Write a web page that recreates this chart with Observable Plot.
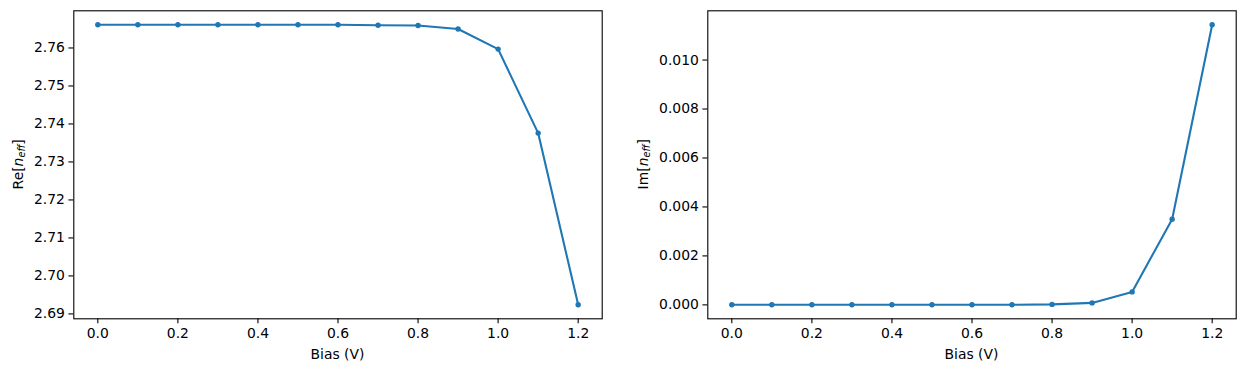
<!DOCTYPE html>
<html><head><meta charset="utf-8">
<script src="https://cdn.jsdelivr.net/npm/d3@7"></script>
<script src="https://cdn.jsdelivr.net/npm/@observablehq/plot@0.6"></script>
<style>
body{margin:0;background:#fff;}
#fig{position:relative;width:1245px;height:371px;font-family:"DejaVu Sans";background:#fff;}
#fig svg{position:absolute;top:0;}
</style></head><body><div id="fig"></div>
<script>
const bias = [0, 0.1, 0.2, 0.3, 0.4, 0.5, 0.6, 0.7, 0.8, 0.9, 1.0, 1.1, 1.2];
const reNeff = [2.7661, 2.7661, 2.7661, 2.7661, 2.7661, 2.7661, 2.7661, 2.7660, 2.7659, 2.7650, 2.7597, 2.7376, 2.6924];
const imNeff = [0.000003, 0.000003, 0.000003, 0.000003, 0.000003, 0.000003, 0.000004, 0.000006, 0.00002, 0.00008, 0.00053, 0.00350, 0.01144];
const xTicks = [0, 0.2, 0.4, 0.6, 0.8, 1.0, 1.2];
const reTicks = [2.69, 2.70, 2.71, 2.72, 2.73, 2.74, 2.75, 2.76];
const imTicks = [0, 0.002, 0.004, 0.006, 0.008, 0.010];
const xLabel = "Bias (V)";

function pad(arr) { const [a, b] = d3.extent(arr); const m = (b - a) * 0.05; return [a - m, b + m]; }

const fig = document.getElementById("fig");

function panel({values, yTicks, yFmt, left, width, marginLeft, marginRight, prefix, labelX}) {
  const data = bias.map((b, i) => ({b, v: values[i]}));
  const svg = Plot.plot({
    width, height: 371, marginTop: 10.3, marginBottom: 52.7, marginLeft, marginRight,
    style: {fontFamily: "DejaVu Sans", fontSize: "13.9px", color: "#000", background: "transparent", overflow: "visible"},
    x: {domain: pad(bias), label: null},
    y: {domain: pad(values), label: null},
    marks: [
      Plot.axisX({ticks: xTicks, tickFormat: d3.format(".1f"), tickSize: 4.9, tickPadding: 4, strokeWidth: 1.1, label: null, fontSize: 13.9}),
      Plot.axisY({ticks: yTicks, tickFormat: d3.format(yFmt), tickSize: 4.9, tickPadding: 4, strokeWidth: 1.1, label: null, fontSize: 13.9}),
      Plot.line(data, {x: "b", y: "v", stroke: "#1f77b4", strokeWidth: 2.1}),
      Plot.dot(data, {x: "b", y: "v", r: 2.7, fill: "#1f77b4", stroke: "none"}),
      Plot.frame({stroke: "#000", strokeWidth: 1.1})
    ]
  });
  svg.style.left = left + "px";
  const s = d3.select(svg);
  const cx = marginLeft + (width - marginLeft - marginRight) / 2;
  s.append("text").attr("x", cx).attr("y", 359).attr("text-anchor", "middle")
    .attr("font-family", "DejaVu Sans").attr("font-size", 13.9).attr("fill", "#000").text(xLabel);
  const cy = 10.3 + (371 - 10.3 - 52.7) / 2;
  const t = s.append("text").attr("transform", `translate(${labelX},${cy}) rotate(-90)`)
    .attr("text-anchor", "middle").attr("dominant-baseline", "central")
    .attr("font-family", "DejaVu Sans").attr("font-size", 13.9).attr("fill", "#000");
  t.append("tspan").text(prefix + "[");
  t.append("tspan").attr("font-style", "italic").text("n");
  t.append("tspan").attr("font-style", "italic").attr("font-size", 9.7).attr("dy", 3).text("eff");
  t.append("tspan").attr("dy", -3).text("]");
  fig.appendChild(svg);
}

panel({values: reNeff, yTicks: reTicks, yFmt: ".2f", left: 0, width: 622, marginLeft: 73.3, marginRight: 20.3, prefix: "Re", labelX: 18});
panel({values: imNeff, yTicks: imTicks, yFmt: ".3f", left: 622, width: 623, marginLeft: 85.3, marginRight: 9.3, prefix: "Im", labelX: 20.7});
</script></body></html>
